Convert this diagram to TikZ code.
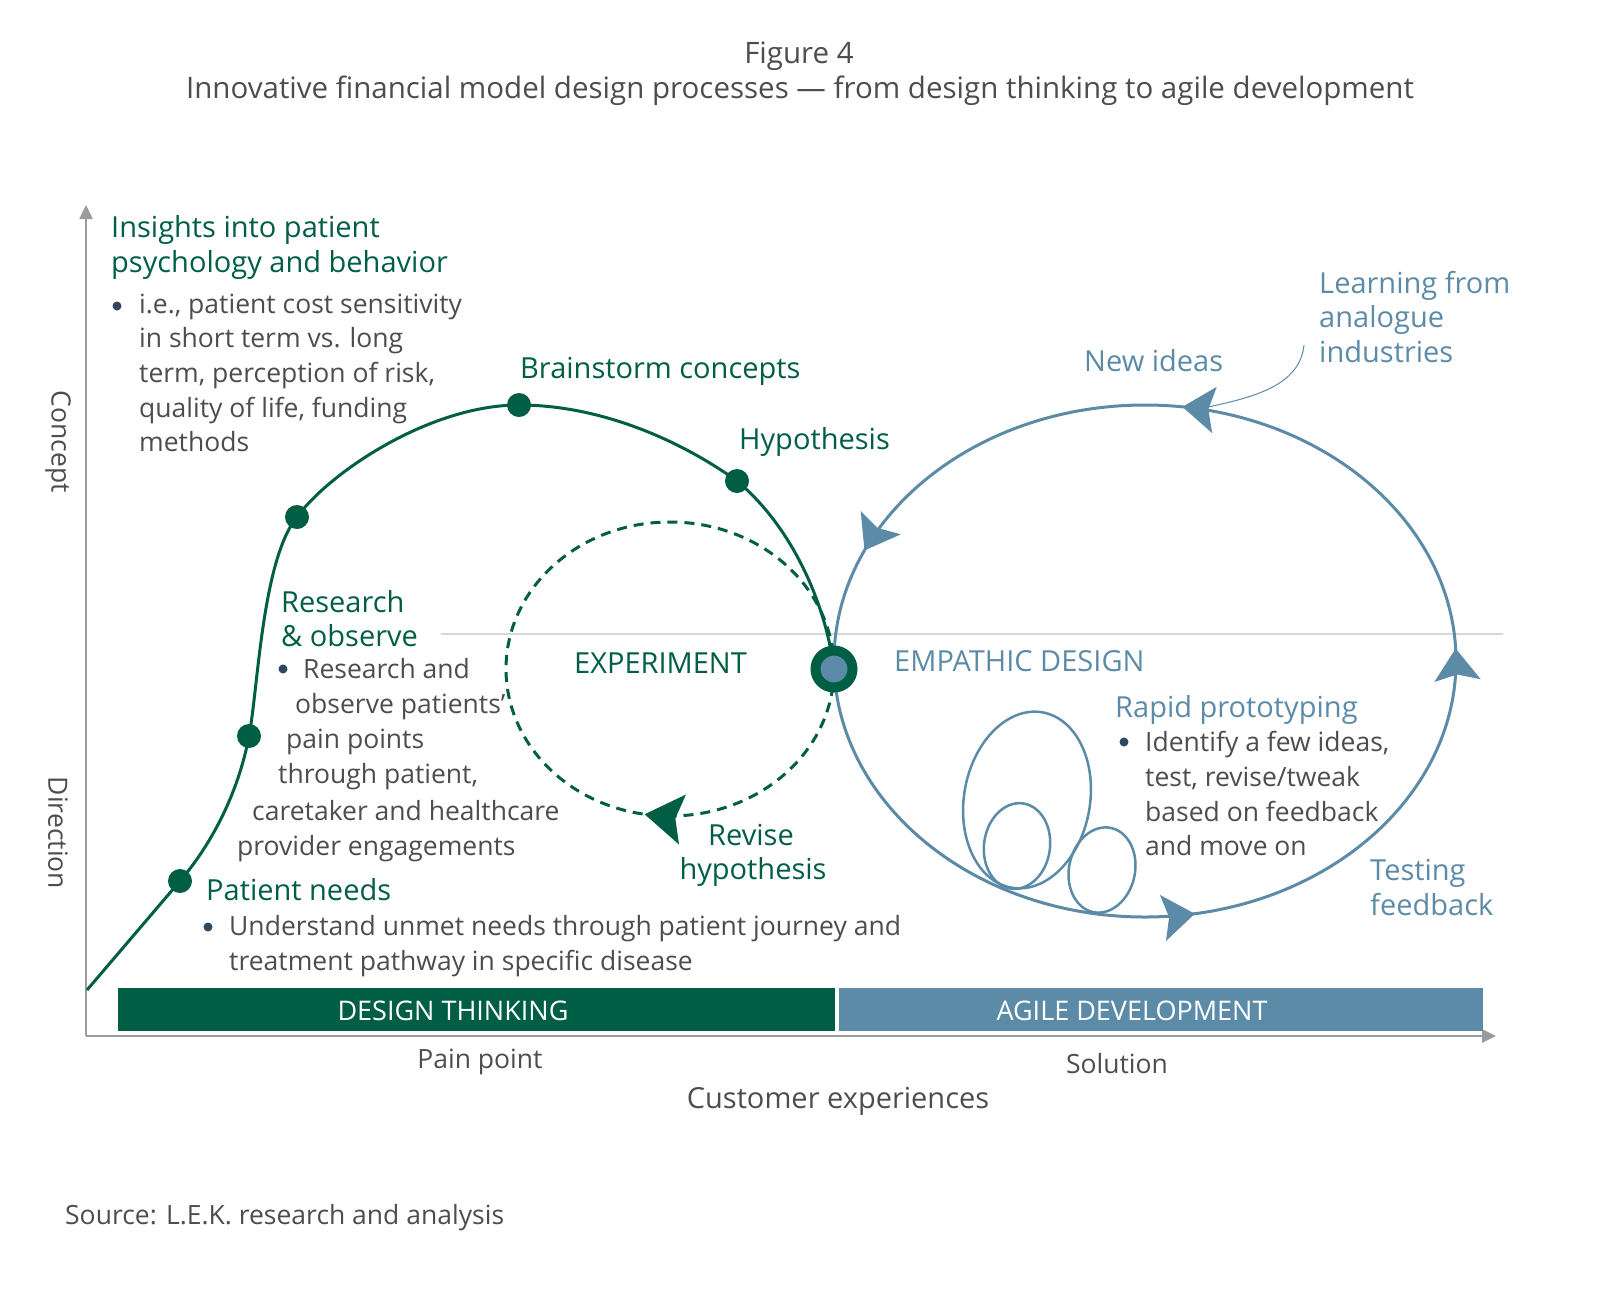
\documentclass[tikz,border=0pt]{standalone}
\usepackage{fontspec}
\setmainfont{Open Sans}
\usetikzlibrary{arrows.meta,decorations.markings}

\definecolor{lekgreen}{RGB}{0,94,68}
\definecolor{lekblue}{RGB}{92,139,168}
\definecolor{txtgray}{RGB}{77,77,77}
\definecolor{bulnavy}{RGB}{47,72,96}
\definecolor{axisgray}{RGB}{155,155,155}
\definecolor{linegray}{RGB}{215,215,215}

\tikzset{
	btip/.tip={Stealth[length=32pt, width=46pt, inset=6pt]},
	gtip/.tip={Stealth[length=38pt, width=50pt, inset=7pt]}
}

\begin{document}
\begin{tikzpicture}[x=1pt, y=-1pt, font=\fontsize{26.5}{35}\selectfont]

	\tikzstyle{dot}=[circle, fill=lekgreen, inner sep=0pt, minimum size=24pt]
	\tikzstyle{bul}=[circle, fill=bulnavy, inner sep=0pt, minimum size=9pt]
	\tikzstyle{txt}=[anchor=base west, inner sep=0pt, text=txtgray]
	\tikzstyle{head}=[txt, font=\fontsize{29}{35}\selectfont]
	\tikzstyle{grn}=[head, text=lekgreen]
	\tikzstyle{blu}=[head, text=lekblue]
	\tikzstyle{axis}=[axisgray, line width=2.5pt, -{Triangle[length=14pt, width=13pt]}]
	\tikzstyle{loop}=[lekblue, line width=3pt]

	\useasboundingbox (0,0) rectangle (1598,1307);

	\coordinate (origin) at (86,1036);
	\coordinate (y_top) at (86,205);
	\coordinate (x_end) at (1496,1036);
	\coordinate (h_l) at (441,634);
	\coordinate (h_r) at (1503,634);

	\coordinate (p_0) at (87,990); % START
	\coordinate (p_1) at (180,881); % PATIENT NEEDS
	\coordinate (p_2) at (249,736); % RESEARCH
	\coordinate (p_3) at (297,517);
	\coordinate (p_4) at (519,405); % BRAINSTORM
	\coordinate (p_5) at (737,481); % HYPOTHESIS
	\coordinate (p_6) at (834,669); % HUB

	\coordinate (e_l) at (834,661); % AGILE LOOP
	\coordinate (e_b) at (1145,917);
	\coordinate (e_r) at (1456,661);
	\coordinate (e_t) at (1145,405);

	\coordinate (x_b) at (670,816); % EXPERIMENT LOOP
	\coordinate (x_l) at (506,669);
	\coordinate (x_t) at (670,522);

	\coordinate (lead_s) at (1304,345);
	\coordinate (lead_e) at (1208,407);

	%%%%%%%% BACKGROUND %%%%%%%%
	\draw[linegray, line width=2pt] (h_l) -- (h_r);
	\draw[axis] (origin) -- (y_top);
	\draw[axis] (origin) -- (x_end);
	\fill[lekgreen] (118,988) rectangle (835,1031);
	\fill[lekblue] (839,988) rectangle (1483,1031);

	%%%%%%%% AGILE LOOP %%%%%%%%
	\draw[loop, postaction={decorate}, decoration={markings,
		mark=at position 0.278 with {\arrow{btip}},
		mark=at position 0.507 with {\arrow{btip}},
		mark=at position 0.729 with {\arrow{btip}},
		mark=at position 0.935 with {\arrow{btip}}}]
		(e_l) .. controls (834,802) and (973,917) .. (e_b)
		.. controls (1317,917) and (1456,802) .. (e_r)
		.. controls (1456,520) and (1317,405) .. (e_t)
		.. controls (973,405) and (834,520) .. (e_l);

	\draw[loop, line width=2.5pt, shift={(1027,800)}, rotate=-10] (0,0) ellipse [x radius=63, y radius=89];
	\draw[loop, line width=2.5pt, shift={(1017,846)}, rotate=-8] (0,0) ellipse [x radius=33, y radius=43];
	\draw[loop, line width=2.5pt, shift={(1102,870)}, rotate=-12] (0,0) ellipse [x radius=33, y radius=43];

	\draw[lekblue, line width=1pt] (lead_s) .. controls (1300,385) and (1255,397) .. (lead_e);

	%%%%%%%% EXPERIMENT LOOP %%%%%%%%
	\draw[lekgreen, line width=3pt, dash pattern=on 10pt off 7pt,
		postaction={decorate, solid}, decoration={markings,
		mark=at position 0.276 with {\arrow{gtip}}}]
		(p_6) .. controls (834,750) and (761,816) .. (x_b)
		.. controls (579,816) and (506,750) .. (x_l)
		.. controls (506,588) and (579,522) .. (x_t)
		.. controls (761,522) and (834,588) .. (p_6);

	%%%%%%%% DESIGN THINKING CURVE %%%%%%%%
	\draw[lekgreen, line width=3pt] (p_0) -- (p_1)
		.. controls (210,846) and (238,795) .. (p_2)
		.. controls (258,690) and (262,560) .. (p_3)
		.. controls (330,472) and (430,405) .. (p_4)
		.. controls (600,405) and (680,440) .. (p_5)
		.. controls (790,525) and (825,600) .. (p_6);

	\node[dot] (d_1) at (p_1) {};
	\node[dot] (d_2) at (p_2) {};
	\node[dot] (d_3) at (p_3) {};
	\node[dot] (d_4) at (p_4) {};
	\node[dot] (d_5) at (p_5) {};
	\node[circle, draw=lekgreen, fill=lekblue, line width=10pt, minimum size=37pt, inner sep=0pt] (hub) at (p_6) {};

	%%%%%%%% TITLE %%%%%%%%
	\node[txt, anchor=base, font=\fontsize{29.5}{35}\selectfont] (fig) at (799,63) {Figure 4};
	\node[txt, anchor=base, font=\fontsize{29.5}{35}\selectfont] (subtitle) at (800,98) {Innovative financial model design processes — from design thinking to agile development};

	%%%%%%%% AXES %%%%%%%%
	\node[txt, anchor=center, rotate=-90] (concept) at (58,442) {Concept};
	\node[txt, anchor=center, rotate=-90] (direction) at (58,833) {Direction};
	\node[txt, anchor=base] (pain) at (480,1068) {Pain point};
	\node[txt, anchor=base] (solution) at (1117,1073) {Solution};
	\node[head, anchor=base] (custexp) at (838,1108) {Customer experiences};
	\node[txt, anchor=base, text=white, font=\fontsize{27}{35}\selectfont] (dt_lbl) at (453,1020) {DESIGN THINKING};
	\node[txt, anchor=base, text=white, font=\fontsize{27}{35}\selectfont] (ad_lbl) at (1132,1020) {AGILE DEVELOPMENT};

	%%%%%%%% INSIGHTS %%%%%%%%
	\node[grn] (ins_1) at (111,237) {Insights into patient};
	\node[grn] (ins_2) at (111,272) {psychology and behavior};
	\node[bul] (b_1) at (117,306) {};
	\node[txt] (ins_3) at (139,313) {i.e., patient cost sensitivity};
	\node[txt] (ins_4) at (139,347) {in short term vs. long};
	\node[txt] (ins_5) at (139,382) {term, perception of risk,};
	\node[txt] (ins_6) at (139,417) {quality of life, funding};
	\node[txt] (ins_7) at (139,451) {methods};

	\node[grn] (brainstorm) at (520,378) {Brainstorm concepts};
	\node[grn] (hypothesis) at (739,449) {Hypothesis};

	%%%%%%%% RESEARCH %%%%%%%%
	\node[grn] (res_1) at (281,612) {Research};
	\node[grn] (res_2) at (281,646) {\& observe};
	\node[bul] (b_2) at (283,669) {};
	\node[txt] (res_3) at (303,678) {Research and};
	\node[txt] (res_4) at (295,713) {observe patients’};
	\node[txt] (res_5) at (286,748) {pain points};
	\node[txt] (res_6) at (278,783) {through patient,};
	\node[txt] (res_7) at (252,820) {caretaker and healthcare};
	\node[txt] (res_8) at (237,855) {provider engagements};

	%%%%%%%% PATIENT NEEDS %%%%%%%%
	\node[grn] (needs_1) at (206,900) {Patient needs};
	\node[bul] (b_3) at (208,927) {};
	\node[txt] (needs_2) at (229,935) {Understand unmet needs through patient journey and};
	\node[txt] (needs_3) at (229,970) {treatment pathway in specific disease};

	%%%%%%%% EXPERIMENT %%%%%%%%
	\node[grn] (experiment) at (574,673) {EXPERIMENT};
	\node[grn, anchor=base] (rev_1) at (751,845) {Revise};
	\node[grn, anchor=base] (rev_2) at (753,879) {hypothesis};

	%%%%%%%% EMPATHIC DESIGN %%%%%%%%
	\node[blu] (empathic) at (894,671) {EMPATHIC DESIGN};
	\node[blu] (newideas) at (1084,371) {New ideas};
	\node[blu] (learn_1) at (1319,293) {Learning from};
	\node[blu] (learn_2) at (1319,327) {analogue};
	\node[blu] (learn_3) at (1319,362) {industries};
	\node[blu] (rapid) at (1115,717) {Rapid prototyping};
	\node[bul] (b_4) at (1124,742) {};
	\node[txt] (rapid_1) at (1145,751) {Identify a few ideas,};
	\node[txt] (rapid_2) at (1145,786) {test, revise/tweak};
	\node[txt] (rapid_3) at (1145,821) {based on feedback};
	\node[txt] (rapid_4) at (1145,855) {and move on};
	\node[blu] (test_1) at (1370,880) {Testing};
	\node[blu] (test_2) at (1370,915) {feedback};

	\node[txt] (source) at (65,1224) {Source: L.E.K. research and analysis};
\end{tikzpicture}
\end{document}
